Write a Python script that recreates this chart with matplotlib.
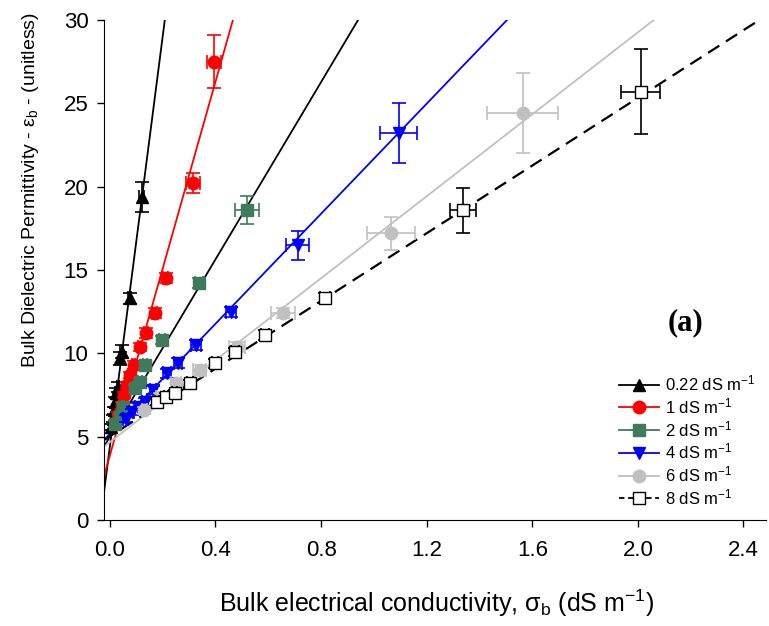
import matplotlib
matplotlib.use("Agg")
import matplotlib.pyplot as plt
from matplotlib.lines import Line2D

plt.rcParams['font.family'] = ['Liberation Sans', 'DejaVu Sans']
plt.rcParams['mathtext.fontset'] = 'custom'
plt.rcParams['mathtext.rm'] = 'Liberation Sans'
plt.rcParams['mathtext.it'] = 'Liberation Sans:italic'

# measured points (bulk EC, permittivity) and errors per solution EC
x_022 = [0.005, 0.01, 0.015, 0.02, 0.025, 0.03, 0.04, 0.045, 0.075, 0.12]
y_022 = [5.6, 6.1, 6.6, 7.1, 7.6, 8.0, 9.7, 10.1, 13.3, 19.4]
ye_022 = [0.2, 0.2, 0.2, 0.3, 0.3, 0.3, 0.4, 0.4, 0.35, 0.9]
xe_022 = [0.004, 0.004, 0.004, 0.004, 0.004, 0.004, 0.005, 0.005, 0.006, 0.008]

x_1 = [0.03, 0.045, 0.055, 0.064, 0.076, 0.091, 0.114, 0.136, 0.17, 0.212, 0.315, 0.394]
y_1 = [6.3, 6.9, 7.5, 8.1, 8.7, 9.3, 10.4, 11.2, 12.4, 14.5, 20.2, 27.5]
ye_1 = [0.2, 0.2, 0.2, 0.2, 0.2, 0.25, 0.25, 0.3, 0.3, 0.3, 0.6, 1.6]
xe_1 = [0.005, 0.005, 0.005, 0.006, 0.006, 0.006, 0.008, 0.008, 0.01, 0.01, 0.027, 0.027]

x_2 = [0.02, 0.038, 0.05, 0.095, 0.114, 0.133, 0.197, 0.337, 0.518]
y_2 = [5.8, 6.2, 6.8, 7.9, 8.3, 9.3, 10.8, 14.2, 18.6]
ye_2 = [0.2, 0.2, 0.2, 0.2, 0.2, 0.2, 0.25, 0.3, 0.85]
xe_2 = [0.005, 0.005, 0.005, 0.006, 0.006, 0.008, 0.01, 0.015, 0.045]

x_4 = [0.06, 0.083, 0.106, 0.133, 0.164, 0.217, 0.258, 0.326, 0.458, 0.712, 1.095]
y_4 = [6.1, 6.5, 6.8, 7.1, 7.8, 8.8, 9.4, 10.5, 12.5, 16.5, 23.2]
ye_4 = [0.2, 0.2, 0.2, 0.25, 0.25, 0.25, 0.3, 0.3, 0.3, 0.87, 1.8]
xe_4 = [0.01, 0.01, 0.01, 0.012, 0.012, 0.015, 0.015, 0.02, 0.02, 0.044, 0.07]

x_6 = [0.13, 0.19, 0.25, 0.34, 0.48, 0.656, 1.064, 1.564]
y_6 = [6.6, 7.4, 8.2, 9.0, 10.4, 12.4, 17.2, 24.4]
ye_6 = [0.2, 0.2, 0.25, 0.3, 0.3, 0.3, 1.0, 2.4]
xe_6 = [0.01, 0.015, 0.02, 0.025, 0.03, 0.047, 0.09, 0.135]

x_8 = [0.178, 0.212, 0.246, 0.303, 0.398, 0.473, 0.587, 0.814, 1.337, 2.01]
y_8 = [7.1, 7.4, 7.6, 8.2, 9.4, 10.1, 11.1, 13.3, 18.6, 25.7]
ye_8 = [0.2, 0.2, 0.2, 0.2, 0.25, 0.25, 0.3, 0.3, 1.35, 2.55]
xe_8 = [0.008, 0.008, 0.01, 0.01, 0.012, 0.015, 0.015, 0.02, 0.05, 0.074]

# fitted lines (end points)
fx_022, fy_022 = [-0.023, 0.208], [1.6, 30]
fx_1, fy_1 = [-0.023, 0.466], [2.6, 30]
fx_2, fy_2 = [-0.023, 0.94], [4.4, 30]
fx_4, fy_4 = [-0.023, 1.504], [4.8, 30]
fx_6, fy_6 = [-0.023, 2.06], [4.4, 30]
fx_8, fy_8 = [-0.023, 2.46], [4.8, 30]

labels = ['0.22 dS m$^{-1}$', '1 dS m$^{-1}$', '2 dS m$^{-1}$',
          '4 dS m$^{-1}$', '6 dS m$^{-1}$', '8 dS m$^{-1}$']

green = '#3f7a5c'
gray = '#c0c0c0'

series = [
    (x_022, y_022, xe_022, ye_022, fx_022, fy_022, 'black', 'black', '^', 'black', '-'),
    (x_1, y_1, xe_1, ye_1, fx_1, fy_1, 'red', 'red', 'o', 'red', '-'),
    (x_2, y_2, xe_2, ye_2, fx_2, fy_2, green, 'black', 's', green, '-'),
    (x_4, y_4, xe_4, ye_4, fx_4, fy_4, 'blue', 'blue', 'v', 'blue', '-'),
    (x_6, y_6, xe_6, ye_6, fx_6, fy_6, gray, gray, 'o', gray, '-'),
    (x_8, y_8, xe_8, ye_8, fx_8, fy_8, 'black', 'black', 's', 'white', '--'),
]

fig = plt.figure(figsize=(7.69, 6.26), dpi=100)
ax = fig.add_axes([0.135, 0.169, 0.861, 0.799])

handles = []
for i, (x, y, xe, ye, fx, fy, col, lcol, mk, mfc, ls) in enumerate(series):
    if ls == '--':
        ax.plot(fx, fy, color=lcol, lw=1.6, ls=(0, (6, 3.5)), zorder=2)
    else:
        ax.plot(fx, fy, color=lcol, lw=1.3, zorder=2)
    ax.errorbar(x, y, xerr=xe, yerr=ye, fmt=mk, color=col, mfc=mfc, mec=col,
                ms=9, elinewidth=1.2, capsize=5, capthick=1.2, zorder=3 + i)
    handles.append(Line2D([], [], color=lcol if ls == '--' else col, lw=1.3,
                          ls=(0, (3, 2)) if ls == '--' else '-',
                          marker=mk, ms=9, mfc=mfc, mec=col))

ax.set_xlim(-0.023, 2.485)
ax.set_ylim(0, 30)
ax.set_xticks([0.0, 0.4, 0.8, 1.2, 1.6, 2.0, 2.4])
ax.set_xticklabels(['0.0', '0.4', '0.8', '1.2', '1.6', '2.0', '2.4'])
ax.set_yticks([0, 5, 10, 15, 20, 25, 30])
ax.spines['top'].set_visible(False)
ax.spines['right'].set_visible(False)
ax.tick_params(direction='out', length=5, width=1, labelsize=16)
ax.tick_params(axis='x', pad=9)
ax.tick_params(axis='y', pad=6)

ax.set_xlabel('Bulk electrical conductivity, σ$_\\mathrm{b}$ (dS m$^{-1}$)',
              fontsize=18)
ax.xaxis.set_label_coords(0.503, -0.135)
ax.set_ylabel('Bulk Dielectric Permittivity - ε$_\\mathrm{b}$ - (unitless)',
              fontsize=14)
ax.yaxis.set_label_coords(-0.095, 0.66)

ax.text(0.878, 0.395, '(a)', transform=ax.transAxes, fontsize=22,
        fontweight='bold', family='Liberation Serif', ha='center', va='center')

leg = ax.legend(handles, labels, loc='lower right', bbox_to_anchor=(1.0, 0.006),
                frameon=False, fontsize=12, handlelength=2.4, handletextpad=0.4,
                labelspacing=0.17, borderaxespad=0.2)

fig.savefig('out.png', dpi=100)
